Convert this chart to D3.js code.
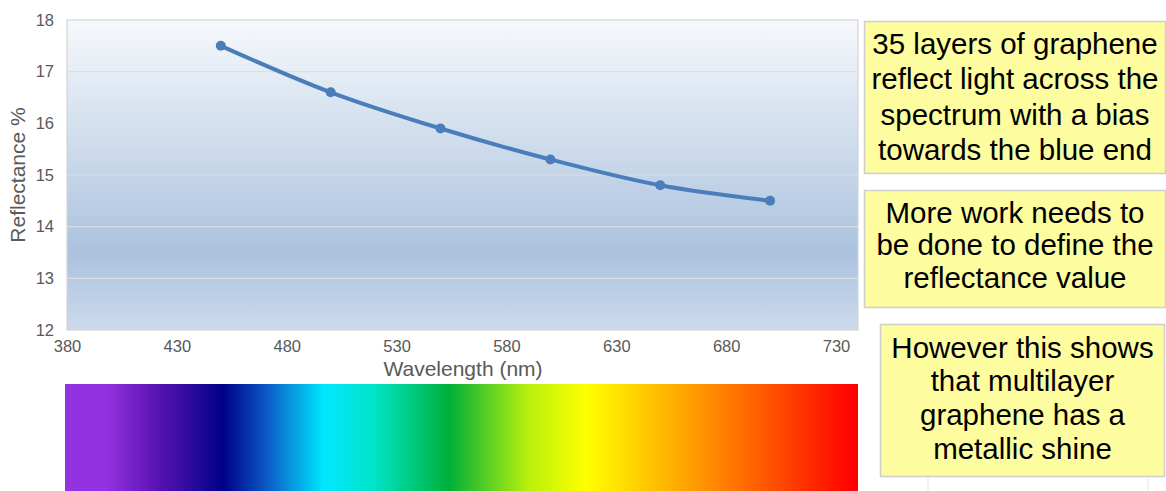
<!doctype html>
<html>
<head>
<meta charset="utf-8">
<script src="https://d3js.org/d3.v7.min.js"></script>
<style>
  body { margin: 0; background: #fff; }
  svg { display: block; font-family: "Liberation Sans", Arial, Helvetica, sans-serif; }
  .tick text { fill: #595959; font-size: 16.5px; }
</style>
</head>
<body>
<svg id="chart" width="1166" height="491"></svg>
<script>
// data
var wavelength = [450, 500, 550, 600, 650, 700];
var reflectance = [17.5, 16.6, 15.9, 15.3, 14.8, 14.5];
var xTicks = [380, 430, 480, 530, 580, 630, 680, 730];
var yTicks = [12, 13, 14, 15, 16, 17, 18];

// colour stops of the spectrum strip, by wavelength
var spectrumNm = [380, 398, 420, 451, 470, 497, 520, 554, 590, 616, 640, 690, 738];
var spectrumColor = ["#9232e0", "#9232e0", "#5c14b4", "#000088", "#0b55c4", "#00e8ff", "#00e4c8", "#00b038", "#b8f00c", "#ffff00", "#ffd000", "#ff6800", "#ff0000"];

var notes = [
  ["35 layers of graphene", "reflect light across the", "spectrum with a bias", "towards the blue end"],
  ["More work needs to", "be done to define the", "reflectance value"],
  ["However this shows", "that multilayer", "graphene has a", "metallic shine"]
];
var noteBoxes = [
  {x: 864, y: 21, w: 302, h: 152, line0: 43, step: 35.5},
  {x: 864, y: 190, w: 302, h: 117, line0: 212, step: 32.5},
  {x: 880, y: 324, w: 285, h: 152, line0: 347, step: 33.8}
];

var svg = d3.select("#chart");
var mLeft = 67, mRight = 858, mTop = 20, mBottom = 330;

var x = d3.scaleLinear().domain([380, 740]).range([mLeft, mRight]);
var y = d3.scaleLinear().domain([12, 18]).range([mBottom, mTop]);

var defs = svg.append("defs");
var bg = defs.append("linearGradient").attr("id", "plotbg")
  .attr("x1", 0).attr("y1", 0).attr("x2", 0).attr("y2", 1);
bg.append("stop").attr("offset", "0%").attr("stop-color", "#f6f9fc");
bg.append("stop").attr("offset", "75%").attr("stop-color", "#abc2de");
bg.append("stop").attr("offset", "100%").attr("stop-color", "#ccdaeb");

var spec = defs.append("linearGradient").attr("id", "spectrum")
  .attr("gradientUnits", "userSpaceOnUse")
  .attr("x1", x(380)).attr("x2", x(740)).attr("y1", 0).attr("y2", 0);
spec.selectAll("stop").data(spectrumNm).enter().append("stop")
  .attr("offset", function(d) { return (x(d) - x(380)) / (x(740) - x(380)); })
  .attr("stop-color", function(d, i) { return spectrumColor[i]; });

// plot area
svg.append("rect")
  .attr("x", mLeft).attr("y", mTop)
  .attr("width", mRight - mLeft).attr("height", mBottom - mTop)
  .attr("fill", "url(#plotbg)")
  .attr("stroke", "#d4d4d4").attr("stroke-width", 1.2);

svg.append("g").selectAll("line")
  .data(yTicks.slice(1, -1)).enter().append("line")
  .attr("x1", mLeft).attr("x2", mRight)
  .attr("y1", function(d) { return y(d); }).attr("y2", function(d) { return y(d); })
  .attr("stroke", "#dadde2").attr("stroke-width", 1.2);

// axes (labels only)
var yAxis = svg.append("g").attr("transform", "translate(" + mLeft + ",0)")
  .call(d3.axisLeft(y).tickValues(yTicks).tickFormat(d3.format("d")).tickSize(0).tickPadding(13));
yAxis.select(".domain").remove();

var xAxis = svg.append("g").attr("transform", "translate(0," + mBottom + ")")
  .call(d3.axisBottom(x).tickValues(xTicks).tickSize(0).tickPadding(10));
xAxis.select(".domain").remove();

svg.append("text")
  .attr("transform", "translate(25," + ((mTop + mBottom) / 2) + ") rotate(-90)")
  .attr("text-anchor", "middle")
  .attr("fill", "#595959").style("font-size", "21px")
  .text("Reflectance %");

svg.append("text")
  .attr("x", 463).attr("y", 376)
  .attr("text-anchor", "middle")
  .attr("fill", "#595959").style("font-size", "21px")
  .text("Wavelength (nm)");

// series
var pts = wavelength.map(function(d, i) { return [d, reflectance[i]]; });
var line = d3.line()
  .x(function(d) { return x(d[0]); })
  .y(function(d) { return y(d[1]); })
  .curve(d3.curveCatmullRom.alpha(0.5));

svg.append("path").datum(pts)
  .attr("d", line)
  .attr("fill", "none")
  .attr("stroke", "#4a7ebb").attr("stroke-width", 4)
  .attr("stroke-linejoin", "round");

svg.append("g").selectAll("circle")
  .data(pts).enter().append("circle")
  .attr("cx", function(d) { return x(d[0]); })
  .attr("cy", function(d) { return y(d[1]); })
  .attr("r", 5)
  .attr("fill", "#4a7ebb");

// spectrum strip
svg.append("rect")
  .attr("x", x(380) - 2).attr("y", 384)
  .attr("width", mRight - x(380) + 2).attr("height", 107)
  .attr("fill", "url(#spectrum)");

// note boxes
var boxes = svg.append("g").selectAll("g")
  .data(noteBoxes).enter().append("g");

boxes.append("rect")
  .attr("x", function(d) { return d.x + 0.5; })
  .attr("y", function(d) { return d.y + 0.5; })
  .attr("width", function(d) { return d.w - 1; })
  .attr("height", function(d) { return d.h; })
  .attr("fill", "#fdfc9f")
  .attr("stroke", "#cfcfcf").attr("stroke-width", 1.5);

boxes.each(function(d, i) {
  d3.select(this).selectAll("text")
    .data(notes[i]).enter().append("text")
    .attr("x", d.x + d.w / 2)
    .attr("y", function(t, j) { return d.line0 + j * d.step; })
    .attr("dy", "0.36em")
    .attr("text-anchor", "middle")
    .attr("fill", "#000")
    .style("font-size", "29.5px")
    .text(function(t) { return t; });
});

// faint guide lines under the last box
svg.append("g").selectAll("line")
  .data([928, 1148]).enter().append("line")
  .attr("x1", function(d) { return d; }).attr("x2", function(d) { return d; })
  .attr("y1", 477).attr("y2", 491)
  .attr("stroke", "#e4e4e4").attr("stroke-width", 1);
</script>
</body>
</html>
